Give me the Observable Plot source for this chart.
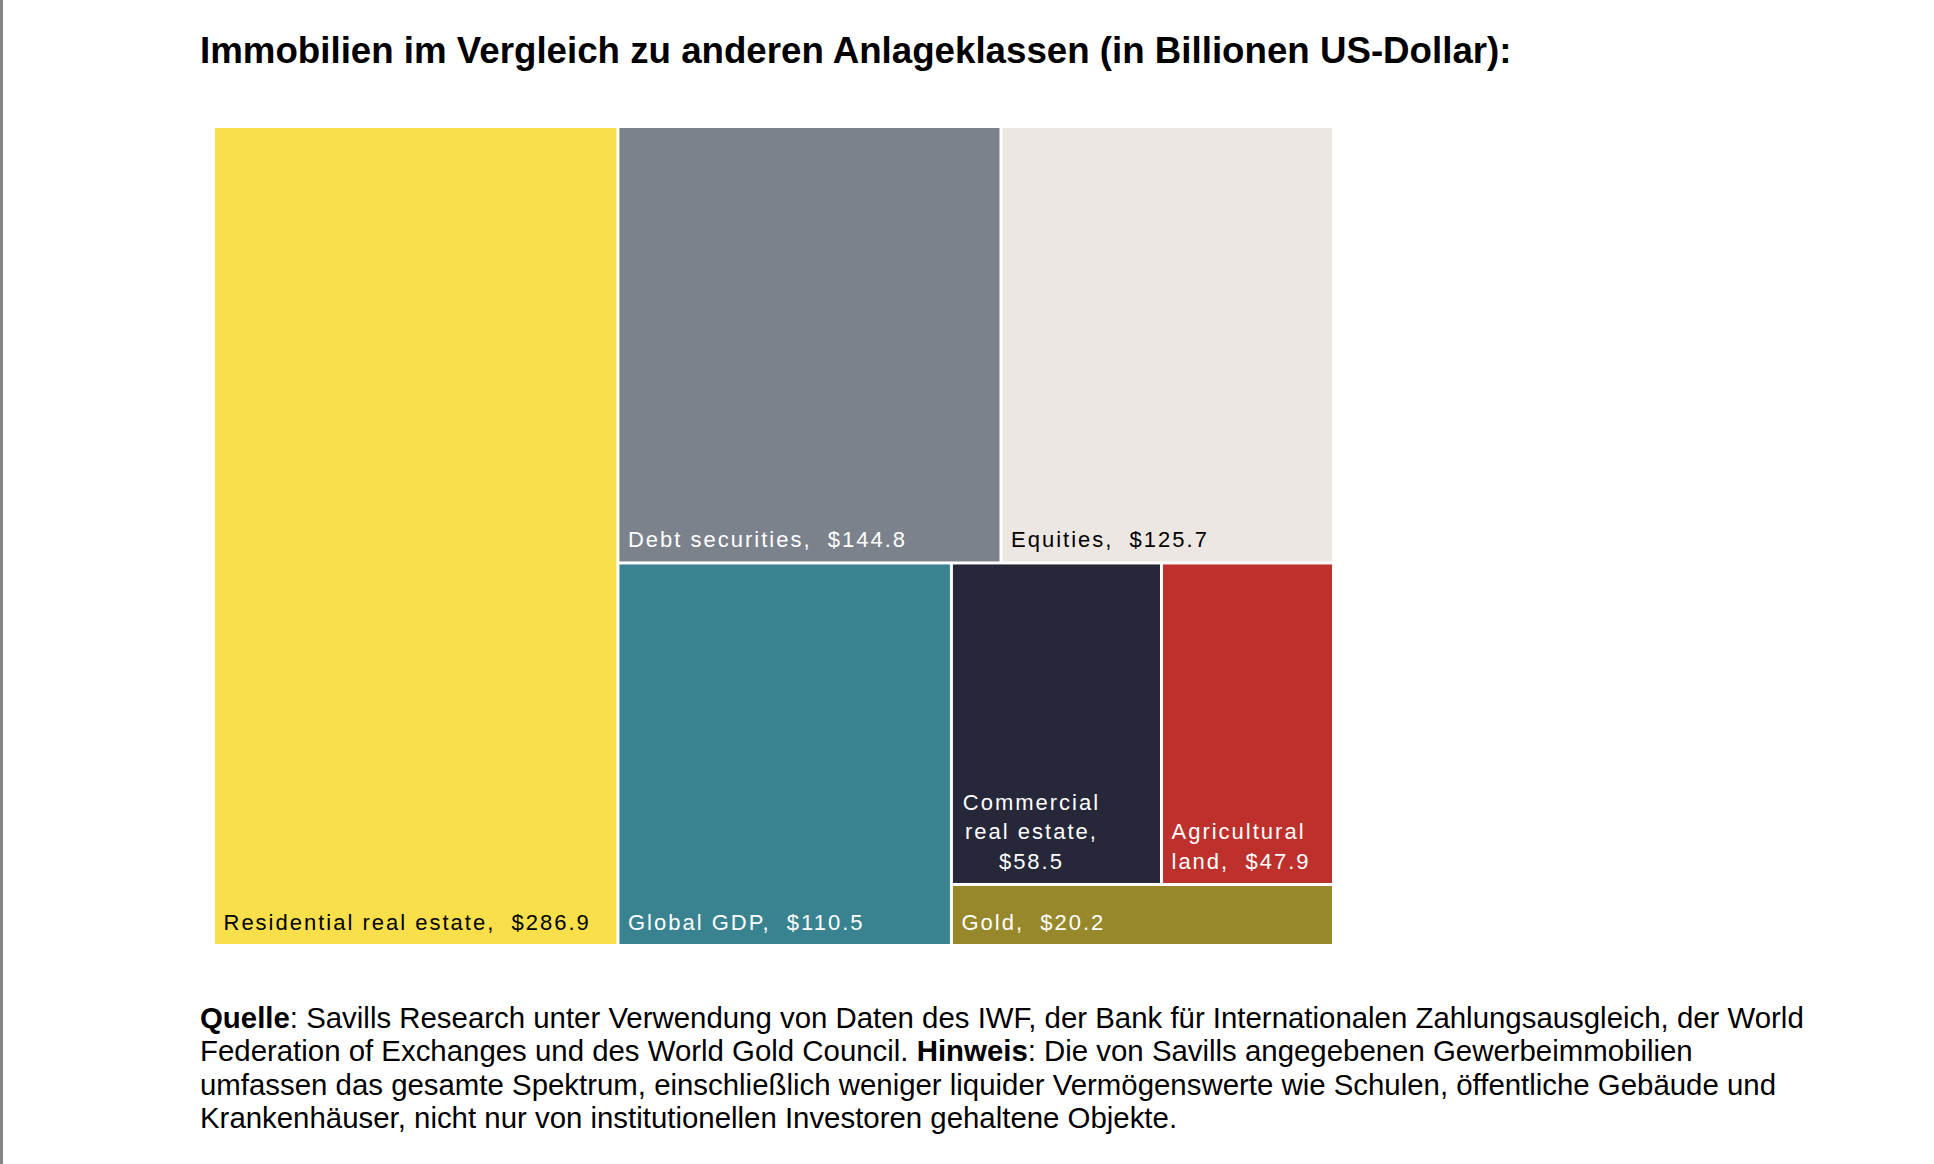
<!DOCTYPE html>
<html>
<head>
<meta charset="utf-8">
<script src="https://cdn.jsdelivr.net/npm/d3@7"></script>
<script src="https://cdn.jsdelivr.net/npm/@observablehq/plot@0.6"></script>
<style>
  html, body { margin: 0; padding: 0; background: #fff; width: 1934px; height: 1164px; overflow: hidden; }
  body { position: relative; font-family: "Liberation Sans", Arial, Helvetica, sans-serif; }
  #edge { position: absolute; left: 0; top: 0; width: 3px; height: 1164px; background: #858585; }
  #title { position: absolute; left: 200px; top: 30px; font-size: 36.7px; font-weight: bold; line-height: 1.15; color: #000; white-space: nowrap; }
  #chart { position: absolute; left: 215px; top: 128px; }
  #note { position: absolute; left: 200px; top: 1001px; font-size: 29.4px; line-height: 33.4px; color: #000; white-space: nowrap; }
</style>
</head>
<body>
<div id="edge"></div>
<div id="title">Immobilien im Vergleich zu anderen Anlageklassen (in Billionen US-Dollar):</div>
<div id="chart"></div>
<div id="note"><b>Quelle</b>: Savills Research unter Verwendung von Daten des IWF, der Bank für Internationalen Zahlungsausgleich, der World<br>Federation of Exchanges und des World Gold Council. <b>Hinweis</b>: Die von Savills angegebenen Gewerbeimmobilien<br>umfassen das gesamte Spektrum, einschließlich weniger liquider Vermögenswerte wie Schulen, öffentliche Gebäude und<br>Krankenhäuser, nicht nur von institutionellen Investoren gehaltene Objekte.</div>
<script>
// ---- data ----
const categories = ["Residential real estate", "Debt securities", "Equities", "Global GDP", "Commercial\nreal estate", "Agricultural\nland", "Gold"];
const values = [286.9, 144.8, 125.7, 110.5, 58.5, 47.9, 20.2];
const colors = ["#f9e04b", "#7b828b", "#ece7e3", "#398390", "#262739", "#bd302b", "#97882c"];

// ---- layout ----
const W = 1117, H = 816;
const root = d3.hierarchy({children: categories.map((name, i) => ({name, value: values[i], color: colors[i], i}))})
  .sum(d => d.value || 0);
d3.treemap().size([W, H]).tile(d3.treemapSquarify.ratio(1)).paddingInner(3).round(false)(root);
const tiles = root.leaves().map(n => ({
  x1: n.x0, x2: n.x1, y1: n.y0, y2: n.y1,
  name: n.data.name, value: n.data.value, color: n.data.color, i: n.data.i,
  label: n.data.name + "," + (n.data.i === 4 ? "\n" : "\u00a0 ") + "$" + n.data.value.toFixed(1),
  ink: d3.lab(n.data.color).l > 70 ? "#000" : "#fff"
}));
const leftLabels = tiles.filter(d => d.i !== 4);
const centerLabels = tiles.filter(d => d.i === 4);

const textStyle = {fontSize: 22, fontFamily: "'Liberation Sans', Arial, sans-serif", lineAnchor: "bottom", lineHeight: 1.34};

const chart = Plot.plot({
  width: W, height: H,
  margin: 0,
  x: {type: "linear", domain: [0, W], range: [0, W], axis: null},
  y: {type: "linear", domain: [0, H], range: [0, H], axis: null},
  color: {type: "identity"},
  style: {background: "transparent", overflow: "visible"},
  marks: [
    Plot.rect(tiles, {x1: "x1", x2: "x2", y1: "y1", y2: "y2", fill: "color"}),
    Plot.text(leftLabels, {x: "x1", y: "y2", text: "label", fill: "ink", textAnchor: "start", dx: 8, dy: -14.5, ...textStyle}),
    Plot.text(centerLabels, {x: "x1", y: "y2", text: "label", fill: "ink", textAnchor: "middle", dx: 78, dy: -14.5, ...textStyle})
  ]
});
chart.querySelectorAll("text").forEach(t => t.style.letterSpacing = "2px");
document.getElementById("chart").appendChild(chart);
</script>
</body>
</html>
